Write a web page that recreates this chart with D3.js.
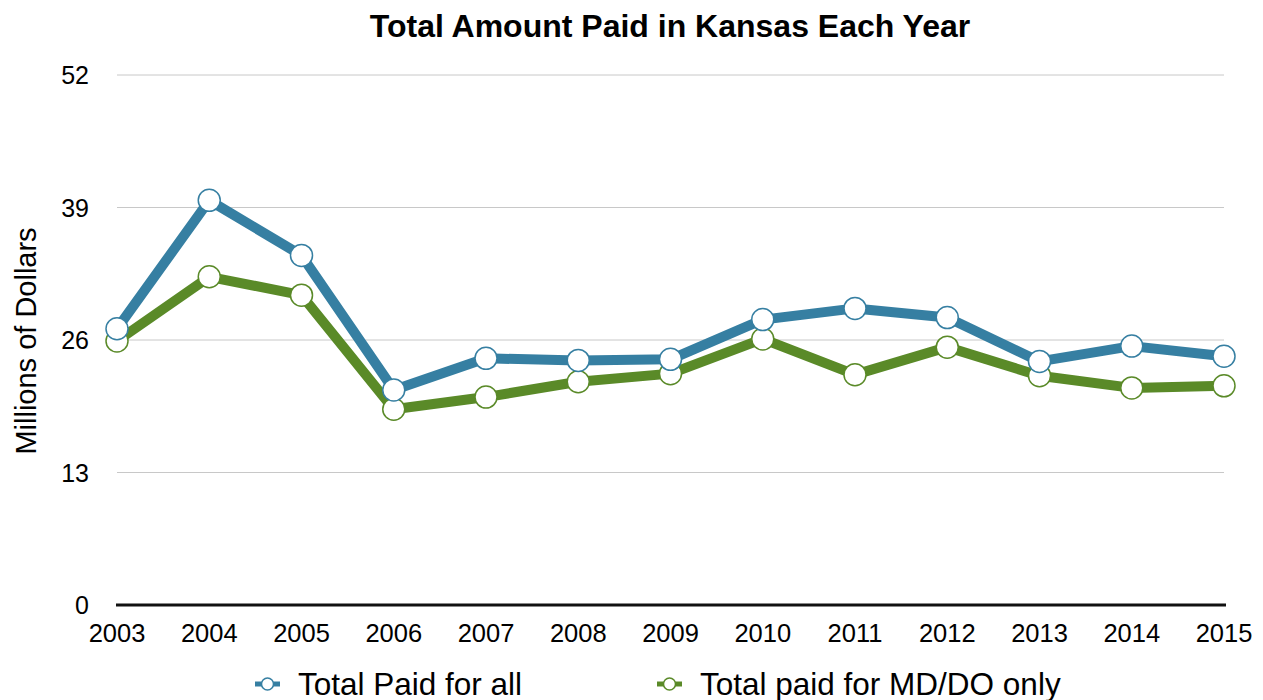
<!DOCTYPE html>
<html>
<head>
<meta charset="utf-8">
<script src="https://cdn.jsdelivr.net/npm/d3@7"></script>
<style>
  body { margin: 0; background: #fff; }
  text { font-family: "Liberation Sans", Arial, Helvetica, sans-serif; fill: #000; }
</style>
</head>
<body>
<div id="chart"></div>
<script>
var years = [2003, 2004, 2005, 2006, 2007, 2008, 2009, 2010, 2011, 2012, 2013, 2014, 2015];
var totalAll = [27.1, 39.7, 34.3, 21.1, 24.2, 24.0, 24.1, 28.0, 29.1, 28.2, 23.9, 25.4, 24.4];
var totalMdDo = [25.9, 32.2, 30.4, 19.2, 20.4, 21.9, 22.7, 26.1, 22.6, 25.3, 22.5, 21.3, 21.5];
var yTicks = [0, 13, 26, 39, 52];
var seriesNames = ["Total Paid for all", "Total paid for MD/DO only"];
var seriesColors = ["#367fa2", "#5a8a28"];

var width = 1263, height = 700;
var svg = d3.select("#chart").append("svg")
    .attr("width", width)
    .attr("height", height);

var x = d3.scalePoint()
    .domain(years)
    .range([117, 1224]);

var y = d3.scaleLinear()
    .domain([0, 52])
    .range([605, 75]);

// gridlines
svg.append("g")
    .selectAll("line")
    .data(yTicks.filter(function(d) { return d > 0; }))
    .enter()
    .append("line")
    .attr("x1", 117)
    .attr("x2", 1224)
    .attr("y1", function(d) { return y(d); })
    .attr("y2", function(d) { return y(d); })
    .attr("stroke", "#c8c8c8")
    .attr("stroke-width", 1);

// y tick labels
svg.append("g")
    .selectAll("text")
    .data(yTicks)
    .enter()
    .append("text")
    .attr("x", 89)
    .attr("y", function(d) { return y(d) + 9; })
    .attr("text-anchor", "end")
    .attr("font-size", 25)
    .text(function(d) { return d; });

// x axis line
svg.append("line")
    .attr("x1", 116)
    .attr("x2", 1226)
    .attr("y1", y(0))
    .attr("y2", y(0))
    .attr("stroke", "#111")
    .attr("stroke-width", 3);

// x tick labels
svg.append("g")
    .selectAll("text")
    .data(years)
    .enter()
    .append("text")
    .attr("x", function(d) { return x(d); })
    .attr("y", 642)
    .attr("text-anchor", "middle")
    .attr("font-size", 25.5)
    .text(function(d) { return d; });

// title
svg.append("text")
    .attr("x", 670)
    .attr("y", 37)
    .attr("text-anchor", "middle")
    .attr("font-size", 32)
    .attr("font-weight", "bold")
    .text("Total Amount Paid in Kansas Each Year");

// y axis label
svg.append("text")
    .attr("transform", "translate(36,341) rotate(-90)")
    .attr("text-anchor", "middle")
    .attr("font-size", 29)
    .text("Millions of Dollars");

var line = d3.line()
    .x(function(d, i) { return x(years[i]); })
    .y(function(d) { return y(d); });

// draw green first so blue sits on top
[totalMdDo, totalAll].forEach(function(vals, k) {
    var color = k === 0 ? seriesColors[1] : seriesColors[0];
    var g = svg.append("g");
    g.append("path")
        .datum(vals)
        .attr("d", line)
        .attr("fill", "none")
        .attr("stroke", color)
        .attr("stroke-width", 10)
        .attr("stroke-linejoin", "round");
    g.selectAll("circle")
        .data(vals)
        .enter()
        .append("circle")
        .attr("cx", function(d, i) { return x(years[i]); })
        .attr("cy", function(d) { return y(d); })
        .attr("r", 11)
        .attr("fill", "#fff")
        .attr("stroke", color)
        .attr("stroke-width", 1.5);
});

// legend
var legendX = [255, 657];
var legend = svg.append("g")
    .selectAll("g")
    .data(seriesNames)
    .enter()
    .append("g")
    .attr("transform", function(d, i) { return "translate(" + legendX[i] + ",684)"; });

legend.append("line")
    .attr("x1", 0)
    .attr("x2", 25)
    .attr("stroke", function(d, i) { return seriesColors[i]; })
    .attr("stroke-width", 5);

legend.append("circle")
    .attr("cx", 12.5)
    .attr("r", 6)
    .attr("fill", "#fff")
    .attr("stroke", function(d, i) { return seriesColors[i]; })
    .attr("stroke-width", 1.5);

legend.append("text")
    .attr("x", 43)
    .attr("y", 11)
    .attr("font-size", 31.5)
    .text(function(d) { return d; });
</script>
</body>
</html>
